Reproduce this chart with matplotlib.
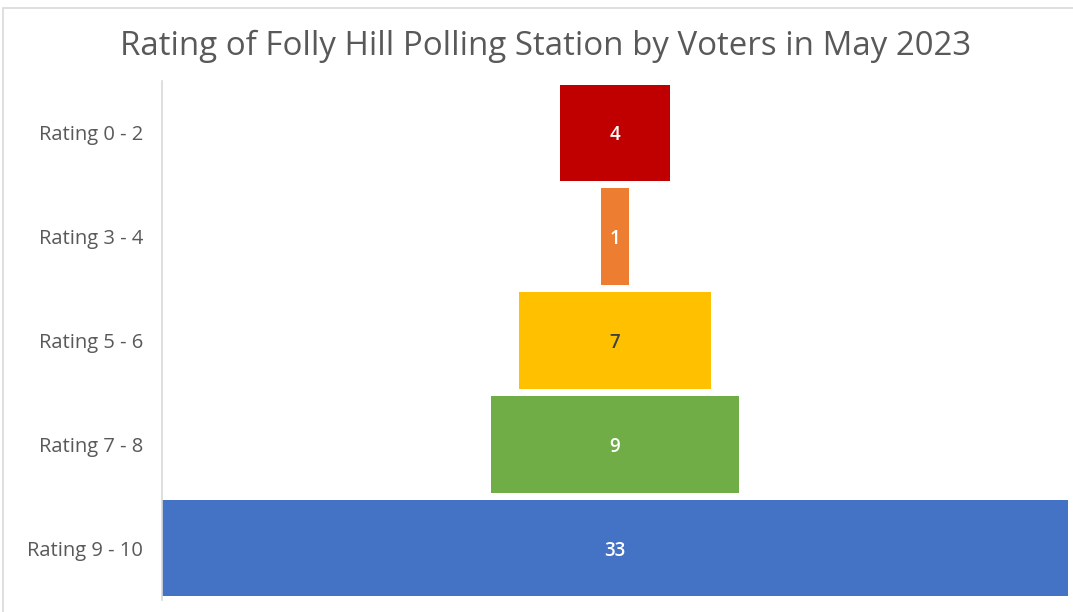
import matplotlib
matplotlib.use("Agg")
import matplotlib.pyplot as plt
from matplotlib.patches import Rectangle

categories = ["Rating 0 - 2", "Rating 3 - 4", "Rating 5 - 6", "Rating 7 - 8", "Rating 9 - 10"]
values = [4, 1, 7, 9, 33]
colors = ["#C00000", "#ED7D31", "#FFC000", "#70AD47", "#4472C4"]
label_colors = ["white", "white", "#404040", "white", "white"]
title = "Rating of Folly Hill Polling Station by Voters in May 2023"

W, H = 1073, 612
fig = plt.figure(figsize=(W / 100, H / 100), dpi=100)
fig.patch.set_facecolor("white")
fig.patches.append(Rectangle((3 / W, -0.1), 1.2, (H - 8) / H + 0.1, transform=fig.transFigure,
                             fill=False, edgecolor="#d9d9d9", linewidth=1.2))

ax = fig.add_axes([162 / W, 1 - 600 / H, (1068 - 162) / W, (600 - 81) / H])
ypos = list(range(len(categories)))
lefts = [-v / 2 for v in values]
ax.barh(ypos, values, left=lefts, height=0.93, color=colors)
for y, v, c in zip(ypos, values, label_colors):
    ax.text(0, y, str(v), ha="center", va="center_baseline", color=c, fontsize=13.5,
            family="Open Sans", fontweight="semibold")

mx = max(values) / 2
ax.set_xlim(-mx, mx)
ax.set_ylim(len(categories) - 0.5, -0.5)
ax.set_yticks(ypos)
ax.set_yticklabels(categories, fontsize=14.5, color="#595959", family="Open Sans")
ax.tick_params(axis="y", length=0, pad=13.5)
ax.set_xticks([])
for s in ["top", "right", "bottom"]:
    ax.spines[s].set_visible(False)
ax.spines["left"].set_color("#d9d9d9")
ax.spines["left"].set_linewidth(1.2)

fig.text(546 / W, 1 - 46 / H, title, ha="center", va="center", fontsize=23.8,
         color="#595959", family="Open Sans")

fig.savefig("out.png", dpi=100)
